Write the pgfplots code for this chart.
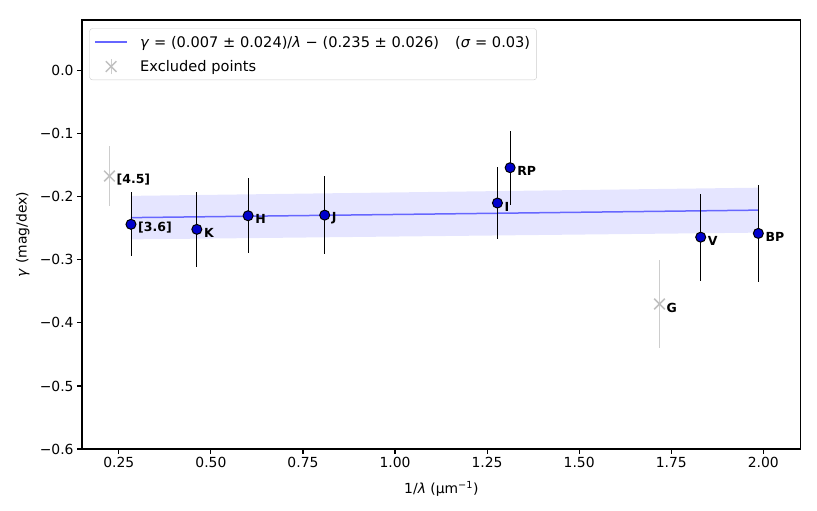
\documentclass[border=0pt]{standalone}
\usepackage{fontspec}
\setmainfont{DejaVu Sans}
\usepackage{pgfplots}
\pgfplotsset{compat=1.18}
\usepackage{pgfplotstable}
\definecolor{ptblue}{RGB}{0,0,204}
\definecolor{fitline}{RGB}{102,102,255}
\definecolor{excl}{RGB}{192,192,192}
\definecolor{exclbar}{RGB}{205,205,205}
\newcommand{\tfont}{\fontsize{13.9}{16}\selectfont}
\newcommand{\legfont}{\fontsize{14.6}{17}\selectfont}
\newcommand{\lfont}{\fontsize{12.5}{14}\selectfont\bfseries}

\pgfplotstableread{
x y e
0.2830 -0.2436 0.0510
0.4618 -0.2516 0.0590
0.6010 -0.2300 0.0595
0.8090 -0.2290 0.0615
1.2780 -0.2098 0.0575
1.3125 -0.1538 0.0590
1.8300 -0.2640 0.0690
1.9865 -0.2580 0.0765
}\mainpts

\pgfplotstableread{
x y e
0.2245 -0.1670 0.0470
1.7180 -0.3700 0.0700
}\exclpts

\begin{document}
\begin{tikzpicture}
\path[use as bounding box] (-82pt,-62pt) rectangle (735pt,449pt);
\begin{axis}[
  scale only axis,
  width=718.7pt, height=429pt,
  xmin=0.15, xmax=2.1015,
  ymin=-0.6, ymax=0.0805,
  xtick={0.25,0.5,0.75,1.0,1.25,1.5,1.75,2.0},
  xticklabels={0.25,0.50,0.75,1.00,1.25,1.50,1.75,2.00},
  ytick={-0.6,-0.5,-0.4,-0.3,-0.2,-0.1,0},
  yticklabels={−0.6,−0.5,−0.4,−0.3,−0.2,−0.1,0.0},
  tick align=outside,
  major tick length=4.9pt,
  tick style={black, line width=1.1pt},
  axis line style={line width=1.1pt},
  xtick pos=bottom, ytick pos=left,
  ticklabel style={font=\tfont},
  xlabel={1/\textit{λ} (μm\textsuperscript{−1})},
  ylabel={\textit{γ} (mag/dex)},
  label style={font=\tfont},
  xlabel style={at={(axis description cs:0.5,-0.0932)}, anchor=center},
  ylabel style={at={(axis description cs:-0.0825,0.5)}, anchor=center},
  legend cell align=left,
  legend style={at={(axis description cs:0.0102,0.9807)}, anchor=north west,
    draw=black!20, rounded corners=3pt, fill=white, font=\legfont,
    inner xsep=5pt, inner ysep=3pt, row sep=4pt,
    nodes={text height=14.2pt, text depth=3.5pt, inner sep=1.5pt},
    /tikz/every odd column/.append style={column sep=11pt}},
]
% confidence band
\addplot[draw=none, fill=blue, fill opacity=0.1, forget plot]
  coordinates {(0.2830,-0.1985) (1.9865,-0.1855) (1.9865,-0.2568) (0.2830,-0.2675)} -- cycle;
% fit line
\addplot[fitline, line width=1.5pt, no marks,
  legend image code/.code={\draw[fitline, line width=1.5pt] (0pt,0pt) -- (31.7pt,0pt);}]
  coordinates {(0.2830,-0.2330) (1.9865,-0.2211)};
\addlegendentry{\textit{γ} = (0.007 ± 0.024)/\textit{λ} − (0.235 ± 0.026)\hspace{1.1em}(\textit{σ} = 0.03)}
% excluded points
\addplot[only marks, mark=x, mark size=7.5pt, mark options={excl, line width=1.5pt},
  legend image code/.code={
    \draw[exclbar, line width=1pt] (15.85pt,-7.5pt) -- (15.85pt,7.5pt);
    \draw[excl, line width=1.5pt] (10.55pt,-5.3pt) -- (21.15pt,5.3pt) (10.55pt,5.3pt) -- (21.15pt,-5.3pt);
  },
  error bars/.cd, y dir=both, y explicit, error mark=none,
  error bar style={exclbar, line width=1pt}]
  table[x=x, y=y, y error=e] {\exclpts};
\addlegendentry{Excluded points}
% main points
\addplot[only marks, mark=*, mark size=5pt,
  mark options={fill=ptblue, draw=black, line width=1pt}, forget plot,
  error bars/.cd, y dir=both, y explicit, error mark=none,
  error bar style={black, line width=0.9pt}]
  table[x=x, y=y, y error=e] {\mainpts};
% labels
\begin{scope}[every node/.style={anchor=west, font=\lfont, inner sep=0pt, xshift=7pt, yshift=-3.5pt}]
\node at (axis cs:0.2245,-0.1670) {[4.5]};
\node at (axis cs:0.2830,-0.2436) {[3.6]};
\node at (axis cs:0.4618,-0.2516) {K};
\node at (axis cs:0.6010,-0.2300) {H};
\node at (axis cs:0.8090,-0.2290) {J};
\node at (axis cs:1.2780,-0.2098) {I};
\node at (axis cs:1.3125,-0.1538) {RP};
\node at (axis cs:1.7180,-0.3700) {G};
\node at (axis cs:1.8300,-0.2640) {V};
\node at (axis cs:1.9865,-0.2580) {BP};
\end{scope}
\end{axis}
\end{tikzpicture}
\end{document}
